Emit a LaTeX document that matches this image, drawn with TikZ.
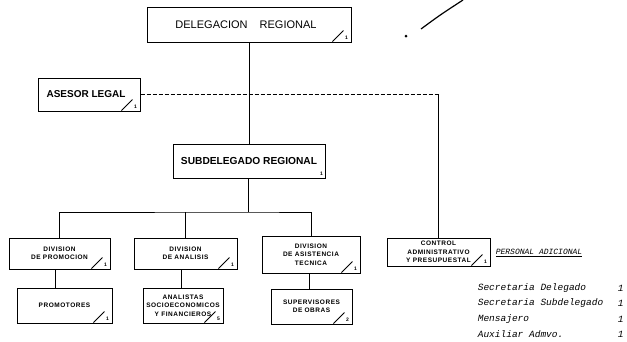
\documentclass[tikz,border=0pt]{standalone}
\usepackage{fontspec}
\setmainfont{Liberation Sans}
\newfontfamily\rotulo[LetterSpace=8]{Liberation Sans}
\newfontfamily\maquina{Liberation Mono}
\newcommand{\marca}[2]{%
\draw ([shift={(-19pt,1pt)}]#1.south east) -- ++(11pt,11pt);
\node[font=\bfseries\fontsize{5}{5}\selectfont] at ([shift={(-5pt,5pt)}]#1.south east) {#2};}

\begin{document}
\begin{tikzpicture}[x=1pt,y=-1pt,line width=1pt,
caja/.style={draw,inner sep=0pt,align=center},
chica/.style={caja,font=\rotulo\bfseries\fontsize{6.5}{8.5}\selectfont},
lista/.style={anchor=west,font=\maquina\itshape\fontsize{9.5}{11}\selectfont}]
\useasboundingbox (0,0) rectangle (627,341);
% cajas
\node[caja,minimum width=204pt,minimum height=35pt,font=\fontsize{11}{13}\selectfont] (deleg) at (249,24.5) {\raisebox{-2pt}{DELEGACION\hspace{1.1em}REGIONAL}\hspace{6pt}};
\node[caja,minimum width=102pt,minimum height=33pt,font=\bfseries\fontsize{10}{12}\selectfont] (asesor) at (89,94.5) {ASESOR LEGAL\hspace{6pt}};
\node[caja,minimum width=152pt,minimum height=34pt,font=\bfseries\fontsize{10.2}{12}\selectfont] (subdel) at (249,161) {\raisebox{-4pt}{SUBDELEGADO REGIONAL}};
\node[chica,minimum width=101pt,minimum height=31pt] (div1) at (59.5,253.5) {DIVISION\\DE PROMOCION}; %j=1
\node[chica,minimum width=103pt,minimum height=31pt] (div2) at (185.5,253.5) {DIVISION\\DE ANALISIS}; %j=2
\node[chica,minimum width=98pt,minimum height=37pt] (div3) at (311,254.5) {DIVISION\\DE ASISTENCIA\\TECNICA}; %j=3
\node[chica,minimum width=103pt,minimum height=28pt] (control) at (438.5,252) {CONTROL\\ADMINISTRATIVO\\Y PRESUPUESTAL\hspace{6pt}};
\node[chica,minimum width=95pt,minimum height=35pt] (promo) at (64.5,305.5) {PROMOTORES};
\node[chica,minimum width=80pt,minimum height=35pt] (analis) at (183,305.5) {ANALISTAS\\SOCIOECONOMICOS\\Y FINANCIEROS\hspace{6pt}};
\node[chica,minimum width=81pt,minimum height=35pt] (superv) at (311.5,306.5) {SUPERVISORES\\DE OBRAS};
% marcas
\marca{deleg}{1}
\marca{asesor}{1}
\node[font=\bfseries\fontsize{5}{5}\selectfont] at ([shift={(-4pt,5pt)}]subdel.south east) {1};
\marca{div1}{1}
\marca{div2}{1}
\marca{div3}{1}
\marca{control}{1}
\marca{promo}{1}
\marca{analis}{5}
\marca{superv}{2}
% lineas
\coordinate (bus) at (248,212);
\coordinate (codo) at (control.north |- asesor.east);
\draw (deleg.south) -- (subdel.north);
\draw[dashed,dash pattern=on 4pt off 2pt] (asesor.east) -- (codo);
\draw (codo) -- (control.north);
\draw (subdel.south -| bus) -- (bus);
\draw (div1.north) |- (bus) -| (div3.north);
\draw (div2.north) -- (div2.north |- bus);
\draw ([xshift=-4pt]div1.south) -- ([xshift=-4pt]div1.south |- promo.north);
\draw ([xshift=-4pt]div2.south) -- ([xshift=-4pt]div2.south |- analis.north);
\draw ([xshift=-2pt]div3.south) -- ([xshift=-2pt]div3.south |- superv.north);
% trazo suelto
\draw[line width=1.2pt] (421,29) .. controls (440,15) .. (463,0);
\fill (406,36) circle (1.5pt);
% personal adicional
\node[anchor=west,font=\maquina\itshape\fontsize{8}{9}\selectfont] (titulo) at (492,253) {\underline{PERSONAL ADICIONAL}};
\node[lista] (sd) at (474,288) {Secretaria Delegado};
\node[lista] (ss) at (474,303) {Secretaria Subdelegado};
\node[lista] (me) at (474,319) {Mensajero};
\node[lista] (au) at (474,334) {Auxiliar Admvo.};
\node[lista] (n1) at (614,288) {1};
\node[lista] (n2) at (614,303) {1};
\node[lista] (n3) at (614,319) {1};
\node[lista] (n4) at (614,334) {1};
\end{tikzpicture}
\end{document}
